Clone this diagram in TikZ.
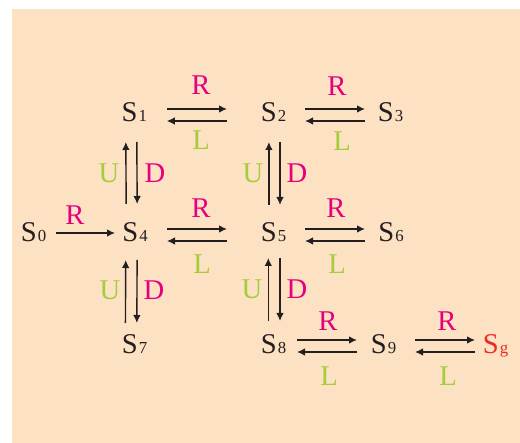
\documentclass[tikz,border=0pt]{standalone}
\usepackage{fontspec}
\setmainfont{Liberation Serif}
\usetikzlibrary{arrows.meta}
\definecolor{peach}{HTML}{FCE2C3}
\definecolor{magr}{HTML}{E6007E}
\definecolor{grnl}{HTML}{A3CD39}
\definecolor{redg}{HTML}{EE2A24}
\definecolor{ink}{HTML}{231F20}
\newcommand{\stname}[1]{S\hspace{0.5pt}{\fontsize{8.4}{9}\selectfont #1}}
\begin{document}
\begin{tikzpicture}[x=0.5pt,y=-0.5pt,
  state/.style={anchor=base,inner sep=0pt,text=ink,font=\fontsize{14.3}{16}\selectfont},
  lblr/.style={inner sep=0pt,text=magr,font=\fontsize{14.3}{16}\selectfont},
  lblg/.style={inner sep=0pt,text=grnl,font=\fontsize{14.3}{16}\selectfont},
  arr/.style={draw=ink,line width=0.7pt,-{Latex[length=4pt,width=3.8pt]}}]
\useasboundingbox (0,0) rectangle (520,443);
\fill[peach] (12,9) rectangle (520,443);
% states
\node[state] (s0) at (33.5,242) {\stname{0}};
\node[state] (s1) at (134.3,122) {\stname{1}};
\node[state] (s2) at (273.5,122) {\stname{2}};
\node[state] (s3) at (390.5,122) {\stname{3}};
\node[state] (s4) at (135,242) {\stname{4}};
\node[state] (s5) at (273.5,242) {\stname{5}};
\node[state] (s6) at (391,242) {\stname{6}};
\node[state] (s7) at (134.5,354) {\stname{7}};
\node[state] (s8) at (273.5,354) {\stname{8}};
\node[state] (s9) at (383.5,354) {\stname{9}};
\node[state,text=redg] (sg) at (495.5,354) {S\hspace{0.5pt}{\fontsize{8.4}{9}\selectfont g}};
% horizontal arrows row 1
\draw[arr,shorten <=16.25pt,shorten >=23.25pt] ([yshift=6.5pt]s1.base) -- ([yshift=6.5pt]s2.base);
\draw[arr,shorten <=23.25pt,shorten >=16.25pt] ([yshift=0.5pt]s2.base) -- ([yshift=0.5pt]s1.base);
\draw[arr,shorten <=15.75pt,shorten >=12.75pt] ([yshift=6.5pt]s2.base) -- ([yshift=6.5pt]s3.base);
\draw[arr,shorten <=12.75pt,shorten >=15.75pt] ([yshift=0.5pt]s3.base) -- ([yshift=0.5pt]s2.base);
% row 2
\draw[arr,shorten <=11.25pt,shorten >=10pt] ([yshift=4.5pt]s0.base) -- ([yshift=4.5pt]s4.base);
\draw[arr,shorten <=16pt,shorten >=23.25pt] ([yshift=6.5pt]s4.base) -- ([yshift=6.5pt]s5.base);
\draw[arr,shorten <=23.25pt,shorten >=16pt] ([yshift=0.5pt]s5.base) -- ([yshift=0.5pt]s4.base);
\draw[arr,shorten <=15.75pt,shorten >=13pt] ([yshift=6.5pt]s5.base) -- ([yshift=6.5pt]s6.base);
\draw[arr,shorten <=13pt,shorten >=15.75pt] ([yshift=0.5pt]s6.base) -- ([yshift=0.5pt]s5.base);
% row 3
\draw[arr,shorten <=11.75pt,shorten >=13.25pt] ([yshift=7pt]s8.base) -- ([yshift=7pt]s9.base);
\draw[arr,shorten <=13.25pt,shorten >=11.75pt] ([yshift=1pt]s9.base) -- ([yshift=1pt]s8.base);
\draw[arr,shorten <=15.75pt,shorten >=10.25pt] ([yshift=7pt]s9.base) -- ([yshift=7pt]sg.base);
\draw[arr,shorten <=10.25pt,shorten >=15.75pt] ([yshift=1pt]sg.base) -- ([yshift=1pt]s9.base);
% vertical arrows
\draw[arr,shorten <=19pt,shorten >=10pt] ([xshift=-4.3pt]s4.base) -- ([xshift=-4.3pt]s1.base);
\draw[arr,shorten <=10pt,shorten >=19pt] ([xshift=1.2pt]s1.base) -- ([xshift=1.2pt]s4.base);
\draw[arr,shorten <=15.5pt,shorten >=9pt] ([xshift=-4.6pt]s7.base) -- ([xshift=-4.6pt]s4.base);
\draw[arr,shorten <=9pt,shorten >=15.5pt] ([xshift=1.1pt]s4.base) -- ([xshift=1.1pt]s7.base);
\draw[arr,shorten <=18.5pt,shorten >=10pt] ([xshift=-2.3pt]s5.base) -- ([xshift=-2.3pt]s2.base);
\draw[arr,shorten <=10pt,shorten >=18.5pt] ([xshift=3.25pt]s2.base) -- ([xshift=3.25pt]s5.base);
\draw[arr,shorten <=16.5pt,shorten >=8pt] ([xshift=-2.6pt]s8.base) -- ([xshift=-2.6pt]s5.base);
\draw[arr,shorten <=8pt,shorten >=16.5pt] ([xshift=3.25pt]s5.base) -- ([xshift=3.25pt]s8.base);
% labels R / L
\node[lblr] (r01) at (75,215) {R};
\node[lblr] (r12) at (201,85) {R};
\node[lblg] (l12) at (201,140) {L};
\node[lblr] (r23) at (337,86) {R};
\node[lblg] (l23) at (342,141) {L};
\node[lblr] (r45) at (201,208) {R};
\node[lblg] (l45) at (202,264) {L};
\node[lblr] (r56) at (336,208) {R};
\node[lblg] (l56) at (337,264) {L};
\node[lblr] (r89) at (328,321) {R};
\node[lblg] (l89) at (329,376) {L};
\node[lblr] (r9g) at (447,321) {R};
\node[lblg] (l9g) at (448,376) {L};
% labels U / D
\node[lblg] (u14) at (109,173) {U};
\node[lblr] (d14) at (155,173) {D};
\node[lblg] (u47) at (110,290) {U};
\node[lblr] (d47) at (154,290) {D};
\node[lblg] (u25) at (253,173) {U};
\node[lblr] (d25) at (297,173) {D};
\node[lblg] (u58) at (252,289) {U};
\node[lblr] (d58) at (297,289) {D};
\end{tikzpicture}
\end{document}
